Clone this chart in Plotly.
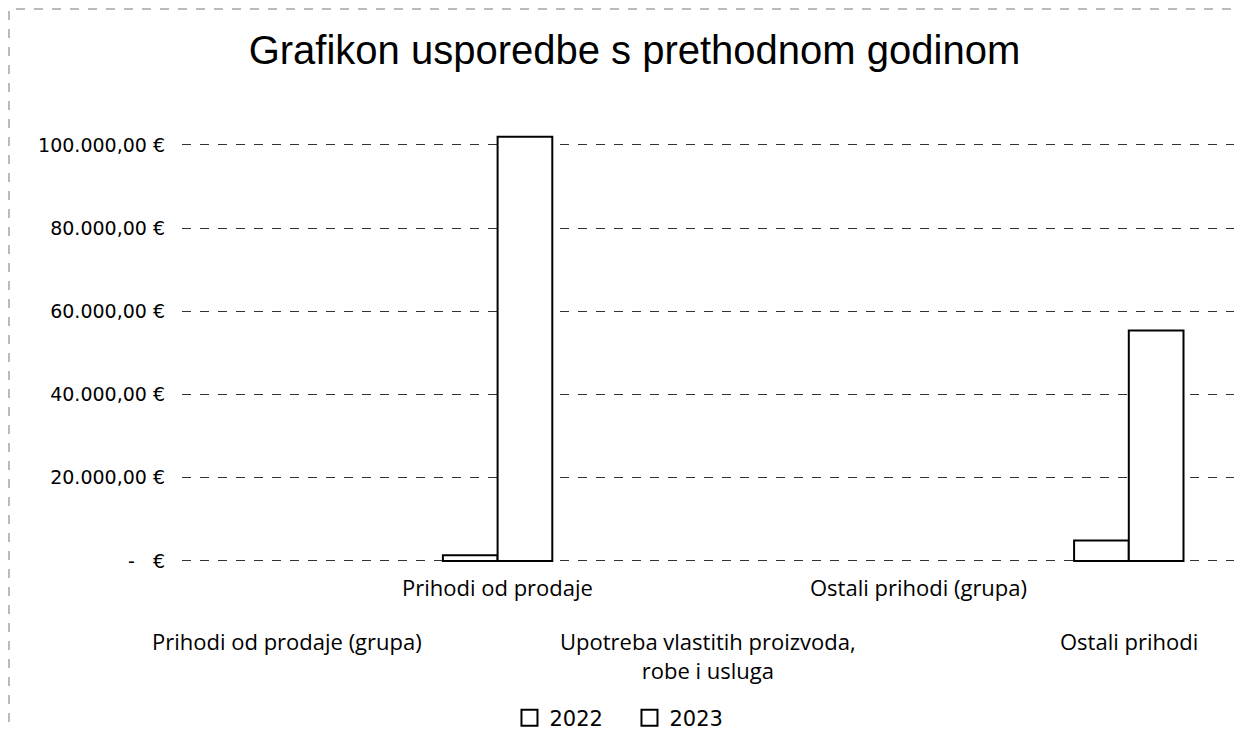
import plotly.graph_objects as go

categories = [
    "Prihodi od prodaje (grupa)",
    "Prihodi od prodaje",
    "Upotreba vlastitih proizvoda,<br>robe i usluga",
    "Ostali prihodi (grupa)",
    "Ostali prihodi",
]
label_row = [2, 1, 2, 1, 2]
series_names = ["2022", "2023"]
values_2022 = [None, 1400, None, None, 4900]
values_2023 = [None, 102000, None, None, 55400]
tick_vals = [0, 20000, 40000, 60000, 80000, 100000]
tick_text = ["-   €", "20.000,00 €", "40.000,00 €", "60.000,00 €", "80.000,00 €", "100.000,00 €"]

W, H = 1238, 723
ML, MR, MT, MB = 174, 12, 122, 169

fig = go.Figure()
for name, vals in zip(series_names, (values_2022, values_2023)):
    fig.add_trace(go.Bar(
        name=name, x=categories, y=vals, legendgroup=name, showlegend=False,
        marker=dict(color="white", line=dict(color="black", width=2)),
    ))
    # legend entry with a larger square symbol
    fig.add_trace(go.Scatter(
        name=name, x=[None], y=[None], mode="markers", legendgroup=name,
        marker=dict(symbol="square", size=16, color="white",
                    line=dict(color="black", width=2)),
    ))

annotations = []
for cat, row in zip(categories, label_row):
    annotations.append(dict(
        x=cat, xref="x", y=0, yref="paper", yanchor="top",
        yshift=-8 if row == 1 else -62, showarrow=False, text=cat,
        font=dict(family="Open Sans", size=22, color="black"),
    ))

pw = W - ML - MR
ph = H - MT - MB
shapes = [dict(type="rect", xref="paper", yref="paper",
               x0=-(ML - 1) / pw, x1=(pw + MR + 20) / pw,
               y0=-(MB + 20) / ph, y1=(ph + MT - 1) / ph,
               line=dict(color="#777", width=1, dash="dash"), layer="below")]

fig.update_layout(
    width=W, height=H,
    paper_bgcolor="white", plot_bgcolor="white",
    margin=dict(l=ML, r=MR, t=MT, b=MB, autoexpand=False),
    title=dict(text="Grafikon usporedbe s prethodnom godinom", x=0.506, xanchor="center",
               y=0.942, yanchor="middle",
               font=dict(family="Liberation Sans", size=40, color="black")),
    barmode="group", bargap=0.48, bargroupgap=0,
    showlegend=True,
    legend=dict(orientation="h", xref="container", x=0.502, xanchor="center",
                yref="paper", y=-(MB - 13) / ph, yanchor="middle",
                font=dict(family="DejaVu Sans", size=21, color="black"),
                itemwidth=30, tracegroupgap=0, entrywidth=75),
    annotations=annotations,
    shapes=shapes,
)
fig.update_xaxes(showticklabels=False, showline=False, showgrid=False, zeroline=False,
                 categoryorder="array", categoryarray=categories, range=[-0.5, 4.5])
fig.update_yaxes(range=[-250, 103600], tickvals=tick_vals, ticktext=tick_text,
                 showgrid=True, gridcolor="#333", griddash="dash", gridwidth=1,
                 zeroline=False, showline=False, ticks="", ticklabelstandoff=16,
                 tickfont=dict(family="DejaVu Sans", size=19, color="black"))
fig.write_html("out.html")
